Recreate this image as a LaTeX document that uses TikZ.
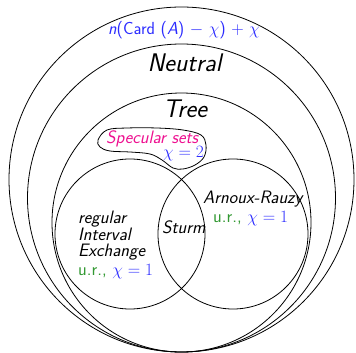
\documentclass[tikz,border=0pt]{standalone}
\usepackage{tikz}
\usetikzlibrary{positioning}
\usepackage{amsmath}
\renewcommand{\familydefault}{\sfdefault}
\definecolor{chiblue}{HTML}{2B2BFF}
\definecolor{urgreen}{HTML}{339933}
\definecolor{specpink}{HTML}{EE1090}

\begin{document}
\begin{tikzpicture}[x=1pt,y=-1pt,
  family/.style={line width=0.8pt},
  setname/.style={font=\fontsize{18}{15.5}\selectfont\itshape,inner sep=0pt,anchor=base west},
  urname/.style={font=\fontsize{18}{15.5}\selectfont,inner sep=0pt,anchor=base west},
  bigname/.style={font=\fontsize{25.5}{28}\selectfont\itshape,inner sep=0pt,anchor=base}]
  \useasboundingbox (0,0) rectangle (356,353);

  % nested families, tangent at the bottom
  \draw[family] (181.5,179.5) circle (172.5pt);
  \draw[family] (181.5,198) circle (154pt);
  \draw[family] (181.5,222.5) circle (129.5pt);

  % interval exchanges and Arnoux-Rauzy
  \draw[family] (130,234) circle (75pt);
  \draw[family] (233,234) circle (75pt);

  % specular sets
  \draw[family] plot[smooth cycle,tension=0.6] coordinates {(98,140) (107,130) (127,128)
    (157,128) (183,130) (201,135) (206,145) (204,157) (195,165) (183,169) (173,168)
    (162,160) (150,154) (130,152) (110,151) (100,147)};

  \node[font=\fontsize{17.5}{20}\selectfont,text=chiblue,inner sep=0pt,anchor=base] (count) at (184,35)
    {\textit{n}(Card (\textit{A}) $-$ $\chi$) $+$ $\chi$};
  \node[bigname] (neutral) at (184.5,72) {Neutral};
  \node[bigname] (tree) at (185,117) {Tree};

  \node[setname,text=specpink] (specular) at (106,143) {Specular sets};
  \node[setname,anchor=base east,text=chiblue] (spechi) at (204,157.5) {$\chi=2$};

  \node[setname] (arnoux) at (203,203) {Arnoux-Rauzy};
  \node[urname] (arnouxur) at (213,222)
    {\textcolor{urgreen}{u.r.,} \textcolor{chiblue}{$\chi=1$}};

  \node[setname,align=left] (iet) at (78,256) {regular\\Interval\\Exchange};
  \node[urname] (ietur) at (78,275)
    {\textcolor{urgreen}{u.r.,} \textcolor{chiblue}{$\chi=1$}};

  \node[setname] (sturm) at (162,233) {Sturm};
\end{tikzpicture}
\end{document}
